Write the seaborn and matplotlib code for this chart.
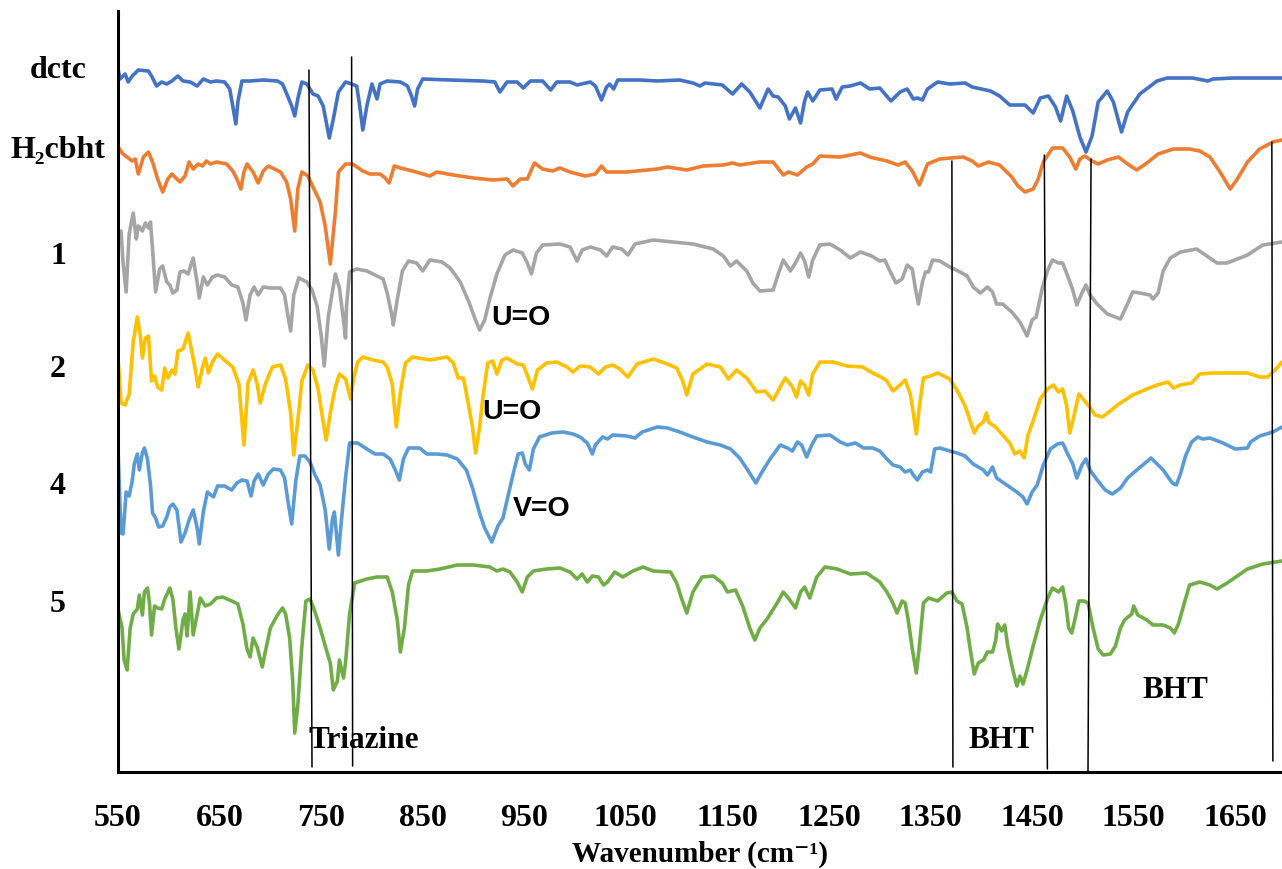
import pandas as pd
import seaborn as sns
import matplotlib.pyplot as plt

# número de onda (cm-1) y transmitancia desplazada (u.a.) de cada espectro
dctc_wn = [550, 552, 557, 560, 564, 570, 580, 583, 588, 593,
           598, 603, 609, 614, 621, 628, 634, 641, 647, 655,
           660, 663, 666, 668, 672, 680, 693, 707, 712, 717,
           721, 724, 727, 731, 736, 742, 747, 752, 758, 762,
           767, 774, 780, 785, 788, 791, 795, 800, 805, 808,
           815, 828, 835, 839, 842, 845, 850, 877, 909, 921,
           926, 933, 943, 949, 956, 968, 976, 982, 995, 1002,
           1015, 1020, 1026, 1031, 1034, 1038, 1042, 1064, 1081, 1103,
           1116, 1123, 1128, 1145, 1155, 1164, 1172, 1182, 1190, 1195,
           1200, 1207, 1211, 1217, 1222, 1226, 1229, 1234, 1241, 1253,
           1257, 1263, 1271, 1281, 1290, 1300, 1311, 1320, 1327, 1333,
           1337, 1342, 1347, 1357, 1369, 1384, 1391, 1409, 1418, 1428,
           1443, 1451, 1458, 1466, 1473, 1478, 1484, 1490, 1497, 1503,
           1509, 1515, 1524, 1530, 1538, 1544, 1556, 1573, 1583, 1608,
           1623, 1628, 1648, 1696]
dctc_t = [714, 704, 709, 701, 707, 713, 712, 707, 697, 701,
          699, 702, 707, 702, 701, 697, 704, 701, 702, 701,
          694, 677, 659, 681, 702, 702, 703, 702, 699, 687,
          677, 667, 684, 701, 699, 689, 687, 677, 645, 664,
          691, 701, 699, 697, 677, 653, 677, 699, 684, 699,
          702, 701, 697, 687, 677, 694, 704, 703, 702, 701,
          691, 701, 701, 695, 702, 702, 693, 701, 701, 698,
          701, 697, 683, 696, 699, 694, 703, 703, 702, 703,
          700, 697, 700, 698, 689, 699, 691, 675, 694, 687,
          686, 677, 664, 675, 660, 682, 691, 682, 693, 694,
          684, 696, 697, 700, 694, 695, 682, 691, 694, 684,
          685, 683, 694, 701, 699, 700, 696, 692, 687, 678,
          678, 670, 685, 687, 676, 662, 687, 672, 646, 631,
          647, 681, 692, 681, 651, 671, 689, 702, 705, 705,
          702, 704, 705, 705]

h2cbht_wn = [550, 555, 564, 567, 570, 575, 580, 584, 589, 594,
             599, 603, 611, 616, 620, 624, 629, 633, 637, 641,
             647, 657, 663, 667, 671, 674, 677, 683, 688, 693,
             698, 710, 716, 720, 724, 727, 731, 737, 742, 749,
             754, 759, 764, 767, 774, 781, 791, 798, 808, 813,
             817, 822, 828, 840, 857, 864, 880, 900, 919, 933,
             939, 946, 953, 960, 968, 978, 985, 995, 1010, 1020,
             1026, 1031, 1051, 1081, 1091, 1110, 1126, 1146, 1155, 1162,
             1182, 1195, 1202, 1205, 1210, 1219, 1228, 1234, 1241, 1261,
             1281, 1290, 1307, 1318, 1325, 1332, 1339, 1347, 1359, 1382,
             1391, 1397, 1407, 1418, 1430, 1436, 1443, 1451, 1456, 1461,
             1470, 1480, 1487, 1493, 1497, 1502, 1509, 1515, 1524, 1535,
             1544, 1553, 1563, 1574, 1589, 1605, 1615, 1625, 1635, 1645,
             1652, 1662, 1674, 1687, 1696]
h2cbht_t = [636, 629, 622, 624, 609, 626, 631, 621, 604, 591,
            604, 609, 601, 607, 621, 614, 619, 617, 622, 619,
            621, 619, 612, 604, 594, 611, 619, 611, 600, 612,
            617, 611, 601, 584, 552, 594, 611, 607, 596, 581,
            557, 519, 571, 611, 619, 619, 612, 609, 609, 605,
            600, 617, 615, 612, 607, 611, 608, 605, 603, 604,
            597, 604, 604, 620, 614, 612, 615, 611, 607, 609,
            617, 611, 611, 614, 616, 613, 617, 618, 620, 618,
            621, 621, 612, 608, 611, 608, 616, 619, 627, 626,
            630, 626, 622, 618, 621, 612, 598, 619, 624, 626,
            622, 617, 621, 618, 606, 597, 591, 594, 604, 621,
            635, 635, 626, 614, 624, 627, 622, 619, 623, 626,
            619, 613, 620, 629, 634, 634, 632, 626, 611, 594,
            604, 621, 634, 641, 643]

c1_wn = [550, 553, 555, 558, 561, 565, 568, 570, 574, 577,
         580, 582, 584, 587, 591, 594, 598, 601, 604, 608,
         611, 615, 619, 624, 628, 630, 634, 638, 643, 648,
         655, 662, 668, 673, 676, 680, 684, 688, 693, 700,
         710, 714, 717, 720, 723, 728, 736, 741, 746, 750,
         753, 757, 764, 768, 772, 774, 775, 778, 785, 795,
         805, 811, 815, 820, 821, 825, 830, 836, 844, 850,
         857, 869, 877, 887, 895, 902, 906, 911, 916, 923,
         931, 939, 948, 953, 957, 962, 968, 985, 995, 1002,
         1007, 1015, 1025, 1031, 1037, 1046, 1052, 1059, 1077, 1096,
         1116, 1136, 1146, 1153, 1159, 1169, 1175, 1182, 1195, 1200,
         1205, 1212, 1217, 1222, 1226, 1230, 1234, 1241, 1251, 1261,
         1271, 1281, 1292, 1300, 1305, 1310, 1316, 1322, 1327, 1332,
         1335, 1338, 1342, 1345, 1348, 1352, 1359, 1369, 1379, 1386,
         1392, 1399, 1406, 1411, 1415, 1421, 1430, 1438, 1445, 1450,
         1454, 1460, 1465, 1470, 1476, 1480, 1485, 1490, 1494, 1499,
         1503, 1507, 1514, 1524, 1532, 1537, 1543, 1549, 1556, 1566,
         1569, 1574, 1579, 1586, 1596, 1612, 1622, 1632, 1642, 1662,
         1677, 1696]
c1_t = [549, 552, 520, 491, 549, 570, 544, 557, 552, 560,
        555, 561, 534, 491, 514, 517, 501, 498, 490, 493,
        511, 512, 509, 525, 500, 485, 506, 498, 506, 508,
        506, 498, 496, 480, 463, 488, 496, 488, 496, 495,
        495, 488, 469, 452, 488, 505, 501, 493, 477, 448,
        417, 466, 509, 495, 463, 445, 477, 511, 514, 512,
        507, 504, 490, 466, 458, 484, 512, 522, 520, 512,
        523, 521, 515, 501, 482, 463, 453, 463, 484, 509,
        528, 533, 530, 520, 509, 530, 538, 539, 536, 522,
        533, 536, 533, 527, 536, 534, 528, 539, 543, 541,
        539, 534, 527, 517, 522, 512, 500, 492, 493, 509,
        523, 512, 520, 530, 522, 506, 523, 538, 539, 533,
        525, 531, 527, 522, 523, 512, 500, 504, 518, 514,
        495, 479, 501, 511, 511, 523, 522, 516, 511, 507,
        496, 490, 496, 491, 479, 479, 471, 461, 447, 463,
        466, 495, 512, 523, 520, 520, 507, 493, 478, 490,
        498, 488, 479, 469, 466, 464, 477, 491, 490, 488,
        484, 490, 512, 525, 531, 534, 527, 520, 520, 528,
        538, 541]

c2_wn = [550, 553, 557, 561, 565, 569, 572, 574, 577, 580,
         583, 586, 589, 593, 596, 599, 603, 606, 609, 614,
         619, 624, 629, 633, 636, 639, 643, 648, 657, 663,
         669, 674, 678, 683, 687, 690, 695, 702, 710, 715,
         720, 723, 727, 731, 737, 742, 747, 752, 755, 759,
         764, 768, 774, 779, 782, 786, 791, 801, 811, 815,
         820, 824, 828, 833, 840, 857, 874, 880, 885, 890,
         894, 899, 902, 906, 909, 914, 919, 923, 928, 933,
         943, 949, 954, 958, 963, 972, 982, 992, 998, 1005,
         1015, 1023, 1030, 1037, 1044, 1052, 1061, 1077, 1091, 1100,
         1106, 1110, 1116, 1130, 1143, 1151, 1159, 1169, 1179, 1187,
         1195, 1202, 1207, 1214, 1218, 1222, 1226, 1230, 1234, 1241,
         1254, 1268, 1283, 1293, 1303, 1307, 1313, 1320, 1325, 1330,
         1333, 1336, 1339, 1343, 1350, 1357, 1369, 1377, 1384, 1389,
         1393, 1397, 1402, 1405, 1407, 1414, 1421, 1428, 1433, 1438,
         1442, 1446, 1451, 1458, 1465, 1471, 1476, 1480, 1484, 1487,
         1490, 1496, 1501, 1506, 1512, 1519, 1527, 1534, 1549, 1563,
         1573, 1584, 1589, 1596, 1607, 1615, 1628, 1645, 1662, 1674,
         1682, 1691, 1696]
c2_t = [425, 380, 378, 389, 441, 466, 447, 425, 445, 447,
        402, 407, 396, 393, 415, 405, 413, 409, 432, 434,
        450, 425, 396, 415, 425, 410, 421, 429, 421, 416,
        399, 338, 400, 413, 399, 380, 399, 416, 418, 404,
        370, 328, 362, 402, 418, 413, 394, 361, 343, 370,
        396, 409, 404, 384, 405, 421, 426, 423, 421, 416,
        399, 356, 391, 420, 426, 423, 426, 420, 405, 405,
        384, 356, 330, 356, 384, 420, 422, 409, 423, 425,
        419, 418, 405, 394, 413, 420, 421, 416, 411, 417,
        416, 409, 416, 418, 414, 406, 419, 424, 419, 415,
        402, 388, 409, 419, 416, 404, 413, 405, 391, 392,
        383, 396, 405, 396, 386, 402, 398, 388, 409, 421,
        421, 417, 416, 410, 405, 402, 392, 398, 403, 389,
        370, 349, 377, 405, 407, 410, 404, 391, 377, 362,
        350, 357, 361, 370, 361, 356, 348, 340, 329, 332,
        325, 348, 362, 384, 394, 398, 391, 394, 377, 350,
        362, 389, 383, 377, 368, 366, 372, 378, 388, 394,
        398, 401, 395, 398, 400, 409, 410, 410, 410, 406,
        406, 415, 421]

c4_wn = [550, 553, 555, 558, 561, 564, 566, 569, 571, 574,
         576, 579, 582, 584, 587, 590, 594, 598, 601, 604,
         608, 612, 616, 620, 624, 628, 630, 634, 638, 644,
         648, 655, 662, 667, 672, 677, 681, 684, 688, 693,
         698, 703, 710, 714, 717, 721, 725, 729, 734, 739,
         744, 749, 754, 758, 761, 763, 767, 770, 774, 778,
         786, 795, 803, 811, 818, 823, 827, 831, 836, 847,
         854, 864, 874, 884, 893, 899, 906, 911, 918, 924,
         929, 934, 939, 944, 948, 951, 955, 959, 965, 977,
         988, 998, 1005, 1012, 1017, 1020, 1027, 1032, 1037, 1051,
         1059, 1066, 1081, 1091, 1103, 1116, 1130, 1143, 1153, 1162,
         1170, 1178, 1184, 1192, 1202, 1209, 1214, 1219, 1223, 1228,
         1233, 1238, 1251, 1261, 1268, 1276, 1284, 1293, 1300, 1307,
         1313, 1320, 1325, 1330, 1333, 1337, 1342, 1347, 1350, 1354,
         1359, 1369, 1376, 1384, 1392, 1402, 1406, 1411, 1415, 1425,
         1435, 1441, 1445, 1450, 1455, 1461, 1468, 1475, 1480, 1485,
         1490, 1494, 1499, 1503, 1507, 1514, 1522, 1529, 1537, 1544,
         1553, 1559, 1567, 1573, 1579, 1588, 1592, 1596, 1601, 1607,
         1613, 1618, 1625, 1638, 1650, 1662, 1665, 1674, 1687, 1696]
c4_t = [334, 250, 249, 291, 287, 302, 319, 329, 313, 330,
        335, 324, 298, 270, 265, 256, 257, 266, 276, 279,
        273, 241, 250, 263, 273, 255, 239, 271, 291, 286,
        297, 297, 293, 300, 303, 302, 287, 302, 309, 298,
        309, 314, 313, 305, 284, 259, 302, 327, 327, 321,
        308, 298, 273, 234, 263, 271, 228, 263, 305, 340,
        340, 334, 329, 329, 324, 313, 303, 324, 335, 335,
        329, 329, 328, 324, 313, 295, 270, 255, 241, 257,
        265, 287, 309, 329, 330, 319, 313, 334, 346, 350,
        351, 349, 346, 340, 329, 338, 346, 344, 348, 347,
        345, 351, 356, 355, 351, 346, 341, 338, 334, 325,
        313, 300, 311, 324, 338, 335, 332, 341, 338, 326,
        338, 347, 348, 341, 338, 340, 335, 335, 332, 324,
        318, 316, 311, 313, 308, 303, 311, 313, 311, 334,
        335, 332, 330, 327, 319, 313, 308, 316, 305, 298,
        291, 286, 279, 291, 298, 318, 334, 339, 340, 329,
        319, 305, 318, 324, 313, 303, 293, 289, 295, 305,
        313, 318, 325, 319, 313, 300, 298, 309, 327, 341,
        346, 344, 345, 340, 334, 335, 341, 347, 351, 356]

c5_wn = [550, 554, 556, 559, 562, 565, 569, 571, 574, 576,
         579, 581, 583, 586, 589, 593, 596, 601, 604, 607,
         610, 614, 616, 618, 621, 624, 628, 631, 636, 641,
         647, 653, 662, 668, 673, 677, 680, 683, 687, 692,
         695, 700, 707, 712, 715, 719, 722, 724, 727, 731,
         735, 739, 744, 749, 754, 759, 762, 766, 768, 772,
         774, 778, 783, 795, 805, 815, 820, 825, 828, 832,
         836, 840, 854, 867, 884, 900, 916, 923, 929, 936,
         943, 948, 953, 959, 972, 985, 995, 1002, 1007, 1012,
         1017, 1023, 1028, 1032, 1039, 1047, 1057, 1067, 1077, 1094,
         1100, 1105, 1110, 1116, 1125, 1136, 1145, 1150, 1158, 1165,
         1172, 1177, 1182, 1189, 1199, 1205, 1210, 1217, 1222, 1226,
         1231, 1238, 1246, 1258, 1271, 1287, 1300, 1307, 1312, 1317,
         1322, 1325, 1328, 1332, 1336, 1339, 1343, 1348, 1357, 1366,
         1371, 1376, 1381, 1386, 1389, 1393, 1397, 1402, 1406, 1411,
         1414, 1416, 1420, 1423, 1426, 1431, 1435, 1438, 1441, 1445,
         1451, 1458, 1465, 1470, 1476, 1480, 1483, 1486, 1489, 1492,
         1496, 1501, 1505, 1510, 1515, 1520, 1527, 1532, 1537, 1541,
         1548, 1550, 1554, 1563, 1569, 1579, 1586, 1590, 1594, 1599,
         1605, 1615, 1625, 1632, 1642, 1652, 1662, 1677, 1696]
c5_t = [174, 155, 123, 113, 155, 169, 174, 188, 168, 191,
        195, 180, 148, 177, 175, 174, 184, 195, 184, 155,
        134, 163, 169, 147, 191, 148, 169, 185, 177, 179,
        185, 186, 182, 179, 159, 134, 126, 145, 136, 116,
        131, 155, 168, 175, 169, 145, 102, 50, 77, 137,
        182, 184, 171, 155, 137, 120, 93, 102, 123, 105,
        120, 169, 200, 204, 206, 206, 191, 163, 131, 155,
        198, 212, 212, 214, 218, 218, 216, 212, 214, 211,
        201, 191, 206, 212, 214, 215, 211, 204, 209, 201,
        207, 206, 198, 201, 211, 206, 212, 216, 212, 211,
        200, 184, 170, 191, 206, 207, 200, 191, 193, 177,
        155, 143, 155, 164, 180, 191, 185, 175, 191, 196,
        185, 206, 216, 214, 209, 210, 201, 191, 182, 170,
        182, 180, 163, 134, 110, 137, 180, 185, 182, 190,
        191, 182, 179, 155, 134, 109, 120, 123, 131, 131,
        142, 159, 152, 158, 137, 113, 97, 107, 99, 113,
        137, 163, 184, 195, 191, 196, 180, 155, 150, 163,
        182, 182, 180, 155, 134, 128, 129, 137, 155, 163,
        169, 177, 168, 163, 158, 158, 155, 150, 159, 177,
        198, 201, 198, 194, 200, 207, 214, 219, 222]

etiquetas = ["dctc", "H\u2082cbht", "1", "2", "4", "5"]
colores = ["#4472C4", "#ED7D31", "#A5A5A5", "#FFC000", "#5B9BD5", "#70AD47"]
# altura de cada etiqueta de la izquierda (u.a.)
etiqueta_y = [714, 633, 527, 414, 297, 180]

# líneas guía verticales: (wn arriba, t arriba, wn abajo, t abajo)
guias = [(738, 713, 741, 16), (780, 726, 781, 17), (1371, 622, 1372, 16),
         (1462, 628, 1465, 14), (1508, 624, 1505, 12), (1686, 641, 1687, 22)]

espectros = [(dctc_wn, dctc_t), (h2cbht_wn, h2cbht_t), (c1_wn, c1_t),
             (c2_wn, c2_t), (c4_wn, c4_t), (c5_wn, c5_t)]

sns.set_theme(style="white")
plt.rcParams["font.family"] = ["Liberation Serif", "DejaVu Serif"]
plt.rcParams["text.color"] = "black"
plt.rcParams["axes.labelcolor"] = "black"

fig = plt.figure(figsize=(12.82, 8.70), dpi=100)
ax = fig.add_axes([118 / 1282, 97 / 870, 1164 / 1282, 761 / 870])

for (wn, t), color in zip(espectros, colores):
    df = pd.DataFrame({"wn": wn, "t": t})
    sns.lineplot(data=df, x="wn", y="t", color=color, linewidth=2.6,
                 sort=False, estimator=None, ax=ax)

for x0, y0, x1, y1 in guias:
    ax.plot([x0, x1], [y0, y1], color="black", linewidth=1.1)

for nombre, y in zip(etiquetas, etiqueta_y):
    ax.text(491, y, nombre, ha="center", va="center", fontsize=23,
            fontweight="bold", clip_on=False)

ax.text(792, 43, "Triazine", ha="center", va="center", fontsize=22.5, fontweight="bold")
ax.text(1420, 43, "BHT", ha="center", va="center", fontsize=22.5, fontweight="bold")
ax.text(1591, 93, "BHT", ha="center", va="center", fontsize=22.5, fontweight="bold")

for x, y, txt in [(947, 466, "U=O"), (938, 372, "U=O"), (967, 275, "V=O")]:
    ax.text(x, y, txt, ha="center", va="center", fontsize=20.5,
            fontweight="bold", family=["Liberation Sans", "DejaVu Sans"])

ax.set_xlim(550, 1696)
ax.set_ylim(11, 772)
ax.set_xticks(range(550, 1651, 100))
ax.set_yticks([])
ax.tick_params(axis="x", direction="in", length=8, width=1.6, pad=22,
               labelsize=23, colors="black")
for lab in ax.get_xticklabels():
    lab.set_fontweight("bold")

for lado in ["top", "right"]:
    ax.spines[lado].set_visible(False)
for lado in ["left", "bottom"]:
    ax.spines[lado].set_color("black")
    ax.spines[lado].set_linewidth(2.2)

ax.set_xlabel("Wavenumber (cm\u207b\u00b9)", fontsize=21, fontweight="bold", labelpad=6)
ax.set_ylabel("")

fig.savefig("out.png", dpi=100)
